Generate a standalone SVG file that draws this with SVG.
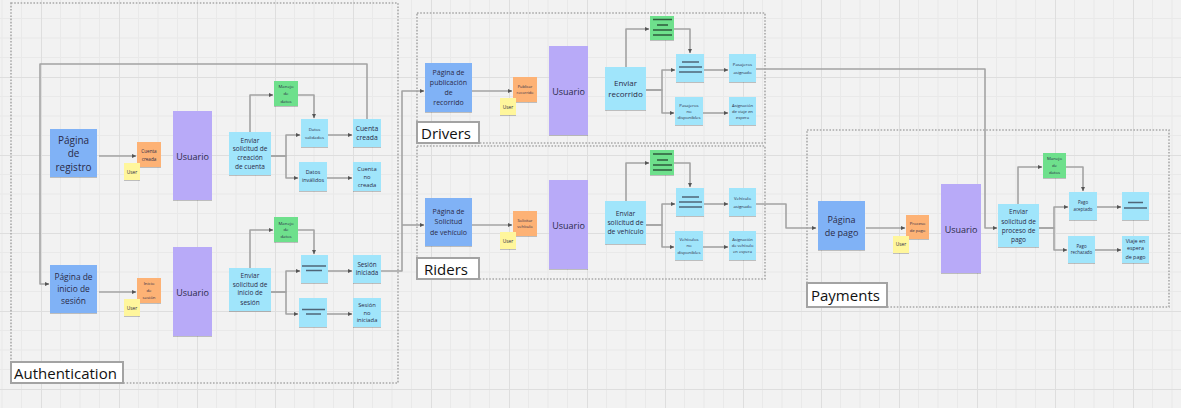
<svg xmlns="http://www.w3.org/2000/svg" width="1181" height="408" viewBox="0 0 1181 408">
<defs>
<pattern id="grid" patternUnits="userSpaceOnUse" x="41" y="-1" width="78" height="78">
<rect width="78" height="78" fill="#f2f2f2"/>
<path d="M19.5,0V78M39,0V78M58.5,0V78M0,19.5H78M0,39H78M0,58.5H78" stroke="#e9e9e9" stroke-width="1"/>
<path d="M0.5,0V78M0,0.5H78" stroke="#dedede" stroke-width="1"/>
</pattern>
<marker id="ah" markerUnits="userSpaceOnUse" markerWidth="5" markerHeight="5" refX="4.5" refY="2.5" orient="auto">
<path d="M0,0.3L4.8,2.5L0,4.7z" fill="#555"/>
</marker>
<filter id="sh" x="-10%" y="-10%" width="120%" height="130%">
<feDropShadow dx="0" dy="1" stdDeviation="0.7" flood-color="#000" flood-opacity="0.22"/>
</filter>
</defs>
<style>
.blue{fill:#80b2f6}
.purple{fill:#b8aaf8}
.cyan{fill:#a0e5fb}
.green{fill:#6ee08c}
.orange{fill:#fdb275}
.yellow{fill:#fff69c}
.n{filter:url(#sh)}
text{font-family:"Open Sans","Noto Sans","Liberation Sans",sans-serif;fill:#2b2b48;text-anchor:middle;dominant-baseline:central}
.conn{fill:none;stroke:#a3a3a3;stroke-width:1.6;stroke-linejoin:round}
.frame{fill:none;stroke:#a9a9a9;stroke-width:1.6;stroke-dasharray:1.6 1.6}
.lbl{fill:#fff;stroke:#a3a3a3;stroke-width:2}
.lt{font-size:15px;text-anchor:start;fill:#111}
.bar{stroke:#4f6678;stroke-width:1.4}
.gbar{stroke:#2f5a3c;stroke-width:1.4}
</style>
<rect width="1181" height="408" fill="url(#grid)"/>

<g id="frames">
<rect class="frame" x="11" y="3" width="387" height="380"/>
<rect class="frame" x="417" y="13" width="348" height="130"/>
<rect class="frame" x="417" y="146" width="348" height="133"/>
<rect class="frame" x="807" y="130" width="362" height="177"/>
</g>

<g id="connectors">
<path class="conn" marker-end="url(#ah)" d="M99,156H136"/>
<path class="conn" marker-end="url(#ah)" d="M271,156H286V135H300"/>
<path class="conn" marker-end="url(#ah)" d="M271,156H286V178H298"/>
<path class="conn" marker-end="url(#ah)" d="M250,132V95H273"/>
<path class="conn" marker-end="url(#ah)" d="M298,95H314V118"/>
<path class="conn" marker-end="url(#ah)" d="M328,135H352"/>
<path class="conn" marker-end="url(#ah)" d="M327,178H352"/>
<path class="conn" marker-end="url(#ah)" d="M367,119V64H40V284H49"/>
<path class="conn" marker-end="url(#ah)" d="M99,292H136"/>
<path class="conn" marker-end="url(#ah)" d="M271,292H286V271H300"/>
<path class="conn" marker-end="url(#ah)" d="M271,292H286V314H298"/>
<path class="conn" marker-end="url(#ah)" d="M250,268V230H273"/>
<path class="conn" marker-end="url(#ah)" d="M298,230H314V254"/>
<path class="conn" marker-end="url(#ah)" d="M328,271H352"/>
<path class="conn" marker-end="url(#ah)" d="M327,314H352"/>
<path class="conn" marker-end="url(#ah)" d="M381,271H402V91H424"/>
<path class="conn" marker-end="url(#ah)" d="M402,225H424"/>

<path class="conn" marker-end="url(#ah)" d="M472,91H512"/>
<path class="conn" marker-end="url(#ah)" d="M646,90H662V70H675"/>
<path class="conn" marker-end="url(#ah)" d="M646,90H662V113H674"/>
<path class="conn" marker-end="url(#ah)" d="M626,67V29H649"/>
<path class="conn" marker-end="url(#ah)" d="M674,29H690V53"/>
<path class="conn" marker-end="url(#ah)" d="M704,70H728"/>
<path class="conn" marker-end="url(#ah)" d="M703,113H728"/>
<path class="conn" marker-end="url(#ah)" d="M756,69H985V228H997"/>

<path class="conn" marker-end="url(#ah)" d="M472,225H512"/>
<path class="conn" marker-end="url(#ah)" d="M646,225H662V204H675"/>
<path class="conn" marker-end="url(#ah)" d="M646,225H662V247H674"/>
<path class="conn" marker-end="url(#ah)" d="M626,201V163H649"/>
<path class="conn" marker-end="url(#ah)" d="M674,163H690V187"/>
<path class="conn" marker-end="url(#ah)" d="M704,204H728"/>
<path class="conn" marker-end="url(#ah)" d="M703,247H728"/>
<path class="conn" marker-end="url(#ah)" d="M756,204H786V228H816"/>

<path class="conn" marker-end="url(#ah)" d="M866,228H905"/>
<path class="conn" marker-end="url(#ah)" d="M1039,228H1054V207H1068"/>
<path class="conn" marker-end="url(#ah)" d="M1039,228H1054V250H1067"/>
<path class="conn" marker-end="url(#ah)" d="M1018,204V167H1042"/>
<path class="conn" marker-end="url(#ah)" d="M1066,167H1083V191"/>
<path class="conn" marker-end="url(#ah)" d="M1097,207H1121"/>
<path class="conn" marker-end="url(#ah)" d="M1095,250H1121"/>
</g>

<!-- Authentication -->
<g id="lbl-auth"><rect class="lbl" x="11" y="362" width="112" height="21"/><text class="lt" x="14" y="373">Authentication</text></g>
<g id="pagina-registro"><rect class="blue n" x="50" y="129" width="47" height="48"/>
<text font-size="10" x="73.5" y="140">Página</text><text font-size="10" x="73.5" y="153">de</text><text font-size="10" x="73.5" y="166.5">registro</text></g>
<g id="o-cuenta-creada"><rect class="orange n" x="137" y="142" width="24" height="25"/>
<text font-size="4.6" x="149" y="150.7">Cuenta</text><text font-size="4.6" x="149" y="158.7">creada</text></g>
<g id="user1"><rect class="yellow n" x="124" y="163" width="16" height="17"/><text font-size="4.8" x="132" y="171.7">User</text></g>
<g id="usuario1"><rect class="purple n" x="173" y="111" width="39" height="89"/><text font-size="9" x="192.5" y="156">Usuario</text></g>
<g id="enviar-creacion"><rect class="cyan n" x="229" y="132" width="42" height="43"/>
<text font-size="6.5" x="250" y="140">Enviar</text><text font-size="6.5" x="250" y="148.5">solicitud de</text><text font-size="6.5" x="250" y="157.3">creación</text><text font-size="6.5" x="250" y="166.5">de cuenta</text></g>
<g id="manejo1"><rect class="green n" x="274" y="81" width="24" height="25"/>
<text font-size="4.3" x="286" y="86">Manejo</text><text font-size="4.3" x="286" y="93.3">de</text><text font-size="4.3" x="286" y="100.7">datos</text></g>
<g id="datos-validados"><rect class="cyan n" x="301" y="119" width="27" height="28"/>
<text font-size="4.3" x="314.5" y="129.3">Datos</text><text font-size="4.3" x="314.5" y="136.7">validados</text></g>
<g id="cuenta-creada"><rect class="cyan n" x="353" y="119" width="28" height="28"/>
<text font-size="6.8" x="367" y="128.3">Cuenta</text><text font-size="6.8" x="367" y="137.3">creada</text></g>
<g id="datos-invalidos"><rect class="cyan n" x="299" y="162" width="28" height="29"/>
<text font-size="5.4" x="313" y="171.7">Datos</text><text font-size="5.4" x="313" y="179.7">inválidos</text></g>
<g id="cuenta-no-creada"><rect class="cyan n" x="353" y="162" width="28" height="29"/>
<text font-size="5.8" x="367" y="169.3">Cuenta</text><text font-size="5.8" x="367" y="177.3">no</text><text font-size="5.8" x="367" y="184.7">creada</text></g>

<g id="pagina-inicio"><rect class="blue n" x="50" y="265" width="47" height="48"/>
<text font-size="8.4" x="73.5" y="276.7">Página de</text><text font-size="8.4" x="73.5" y="288.5">inicio de</text><text font-size="8.4" x="73.5" y="300">sesión</text></g>
<g id="o-inicio-sesion"><rect class="orange n" x="137" y="278" width="24" height="25"/>
<text font-size="4.3" x="149" y="282.7">Inicio</text><text font-size="4.3" x="149" y="290">de</text><text font-size="4.3" x="149" y="297.3">sesión</text></g>
<g id="user2"><rect class="yellow n" x="124" y="299" width="16" height="17"/><text font-size="4.8" x="132" y="307.7">User</text></g>
<g id="usuario2"><rect class="purple n" x="173" y="247" width="39" height="89"/><text font-size="9" x="192.5" y="292">Usuario</text></g>
<g id="enviar-inicio"><rect class="cyan n" x="229" y="268" width="42" height="43"/>
<text font-size="6.5" x="250" y="275">Enviar</text><text font-size="6.5" x="250" y="284">solicitud de</text><text font-size="6.5" x="250" y="292.7">inicio de</text><text font-size="6.5" x="250" y="302.3">sesión</text></g>
<g id="manejo2"><rect class="green n" x="274" y="217" width="24" height="25"/>
<text font-size="4.3" x="286" y="222.7">Manejo</text><text font-size="4.3" x="286" y="229.3">de</text><text font-size="4.3" x="286" y="236">datos</text></g>
<g id="lines-a1"><rect class="cyan n" x="301" y="255" width="27" height="28"/>
<path class="bar" d="M302,266H326M306,270.5H322"/></g>
<g id="sesion-iniciada"><rect class="cyan n" x="353" y="255" width="28" height="28"/>
<text font-size="6.3" x="367" y="264.3">Sesión</text><text font-size="6.3" x="367" y="272.7">iniciada</text></g>
<g id="lines-a2"><rect class="cyan n" x="299" y="298" width="28" height="29"/>
<path class="bar" d="M302,309.5H325M306,314H321"/></g>
<g id="sesion-no-iniciada"><rect class="cyan n" x="353" y="298" width="28" height="29"/>
<text font-size="5.8" x="367" y="305">Sesión</text><text font-size="5.8" x="367" y="312.7">no</text><text font-size="5.8" x="367" y="320">iniciada</text></g>

<!-- Drivers -->
<g id="lbl-drivers"><rect class="lbl" x="417" y="122" width="62" height="21"/><text class="lt" x="421" y="133">Drivers</text></g>
<g id="pagina-publicacion"><rect class="blue n" x="425" y="63" width="47" height="49"/>
<text font-size="7" x="448.5" y="72.3">Página de</text><text font-size="7" x="448.5" y="82.3">publicación</text><text font-size="7" x="448.5" y="92">de</text><text font-size="7" x="448.5" y="102.3">recorrido</text></g>
<g id="o-publicar"><rect class="orange n" x="513" y="77" width="24" height="25"/>
<text font-size="3.9" x="525" y="86">Publicar</text><text font-size="3.9" x="525" y="92">recorrido</text></g>
<g id="user3"><rect class="yellow n" x="500" y="98" width="16" height="17"/><text font-size="4.8" x="508" y="106.7">User</text></g>
<g id="usuario3"><rect class="purple n" x="549" y="46" width="39" height="89"/><text font-size="9" x="568.5" y="91">Usuario</text></g>
<g id="enviar-recorrido"><rect class="cyan n" x="605" y="67" width="41" height="43"/>
<text font-size="8" x="625.5" y="82.7">Enviar</text><text font-size="8" x="625.5" y="93.3">recorrido</text></g>
<g id="green-d"><rect class="green n" x="650" y="16" width="24" height="24"/>
<path class="gbar" d="M653,19.5H672M657,25H668M653,30H672M653,35H672"/></g>
<g id="lines-d"><rect class="cyan n" x="676" y="54" width="28" height="28"/>
<path class="bar" d="M682,62H699M679,67H702M679,72H702"/></g>
<g id="pasajeros-asignado"><rect class="cyan n" x="729" y="54" width="27" height="28"/>
<text font-size="4.3" x="742.5" y="64">Pasajeros</text><text font-size="4.3" x="742.5" y="72.3">asignado</text></g>
<g id="pasajeros-no-disp"><rect class="cyan n" x="675" y="97" width="28" height="28"/>
<text font-size="4.3" x="689" y="105">Pasajeros</text><text font-size="4.3" x="689" y="111">no</text><text font-size="4.3" x="689" y="117.3">disponibles</text></g>
<g id="asig-viaje-espera"><rect class="cyan n" x="729" y="97" width="27" height="28"/>
<text font-size="4.2" x="742.5" y="105">Asignación</text><text font-size="4.2" x="742.5" y="111">de viaje en</text><text font-size="4.2" x="742.5" y="117.3">espera</text></g>

<!-- Riders -->
<g id="lbl-riders"><rect class="lbl" x="417" y="258" width="62" height="21"/><text class="lt" x="424" y="269">Riders</text></g>
<g id="pagina-solicitud"><rect class="blue n" x="425" y="198" width="47" height="48"/>
<text font-size="7" x="448.5" y="211">Página de</text><text font-size="7" x="448.5" y="221.7">Solicitud</text><text font-size="7" x="448.5" y="232.3">de vehículo</text></g>
<g id="o-solicitar"><rect class="orange n" x="513" y="211" width="24" height="25"/>
<text font-size="4" x="525" y="220">Solicitar</text><text font-size="4" x="525" y="226">vehículo</text></g>
<g id="user4"><rect class="yellow n" x="500" y="232" width="16" height="17"/><text font-size="4.8" x="508" y="240.7">User</text></g>
<g id="usuario4"><rect class="purple n" x="549" y="180" width="39" height="89"/><text font-size="9" x="568.5" y="225.7">Usuario</text></g>
<g id="enviar-vehiculo"><rect class="cyan n" x="605" y="201" width="41" height="43"/>
<text font-size="6.8" x="625.5" y="213.3">Enviar</text><text font-size="6.8" x="625.5" y="222.3">solicitud de</text><text font-size="6.8" x="625.5" y="231">de vehículo</text></g>
<g id="green-r"><rect class="green n" x="650" y="150" width="24" height="25"/>
<path class="gbar" d="M653,154H672M657,160H668M653,165H672M653,170H672"/></g>
<g id="lines-r"><rect class="cyan n" x="676" y="188" width="28" height="28"/>
<path class="bar" d="M682,197H699M679,202H702M679,207H702"/></g>
<g id="vehiculo-asignado"><rect class="cyan n" x="729" y="188" width="27" height="28"/>
<text font-size="4.3" x="742.5" y="198.3">Vehículo</text><text font-size="4.3" x="742.5" y="206">asignado</text></g>
<g id="vehiculos-no-disp"><rect class="cyan n" x="675" y="231" width="28" height="29"/>
<text font-size="4.3" x="689" y="239.3">Vehículos</text><text font-size="4.3" x="689" y="245.3">no</text><text font-size="4.3" x="689" y="251.7">disponibles</text></g>
<g id="asig-vehiculo-espera"><rect class="cyan n" x="729" y="231" width="27" height="29"/>
<text font-size="4.1" x="742.5" y="239.3">Asignación</text><text font-size="4.1" x="742.5" y="245.3">de vehículo</text><text font-size="4.1" x="742.5" y="251.7">en espera</text></g>

<!-- Payments -->
<g id="lbl-payments"><rect class="lbl" x="807" y="283" width="80" height="24"/><text class="lt" x="811" y="295">Payments</text></g>
<g id="pagina-pago"><rect class="blue n" x="818" y="201" width="47" height="49"/>
<text font-size="9" x="841.5" y="219">Página</text><text font-size="9" x="841.5" y="232.3">de pago</text></g>
<g id="o-proceso"><rect class="orange n" x="906" y="215" width="23" height="24"/>
<text font-size="4.2" x="917.5" y="223.7">Proceso</text><text font-size="4.2" x="917.5" y="230.3">de pago</text></g>
<g id="user5"><rect class="yellow n" x="893" y="236" width="16" height="17"/><text font-size="4.8" x="901" y="244">User</text></g>
<g id="usuario5"><rect class="purple n" x="941" y="184" width="40" height="89"/><text font-size="9" x="961" y="229">Usuario</text></g>
<g id="enviar-pago"><rect class="cyan n" x="998" y="204" width="41" height="43"/>
<text font-size="6.5" x="1018.5" y="211.7">Enviar</text><text font-size="6.5" x="1018.5" y="221">solicitud de</text><text font-size="6.5" x="1018.5" y="230">proceso de</text><text font-size="6.5" x="1018.5" y="239.3">pago</text></g>
<g id="manejo3"><rect class="green n" x="1043" y="153" width="23" height="25"/>
<text font-size="4.3" x="1054.5" y="158.3">Manejo</text><text font-size="4.3" x="1054.5" y="165">de</text><text font-size="4.3" x="1054.5" y="171.7">datos</text></g>
<g id="pago-aceptado"><rect class="cyan n" x="1069" y="192" width="28" height="28"/>
<text font-size="4.4" x="1083" y="201.7">Pago</text><text font-size="4.4" x="1083" y="209">aceptado</text></g>
<g id="lines-p"><rect class="cyan n" x="1122" y="192" width="27" height="28"/>
<path class="bar" d="M1128,202.5H1143M1124,208H1147"/></g>
<g id="pago-rechazado"><rect class="cyan n" x="1068" y="236" width="27" height="27"/>
<text font-size="4.4" x="1081.5" y="246">Pago</text><text font-size="4.4" x="1081.5" y="252.3">rechazado</text></g>
<g id="viaje-espera-pago"><rect class="cyan n" x="1122" y="236" width="27" height="27"/>
<text font-size="5.4" x="1135.5" y="240.7">Viaje en</text><text font-size="5.4" x="1135.5" y="248.3">espera</text><text font-size="5.4" x="1135.5" y="256.7">de pago</text></g>
</svg>
